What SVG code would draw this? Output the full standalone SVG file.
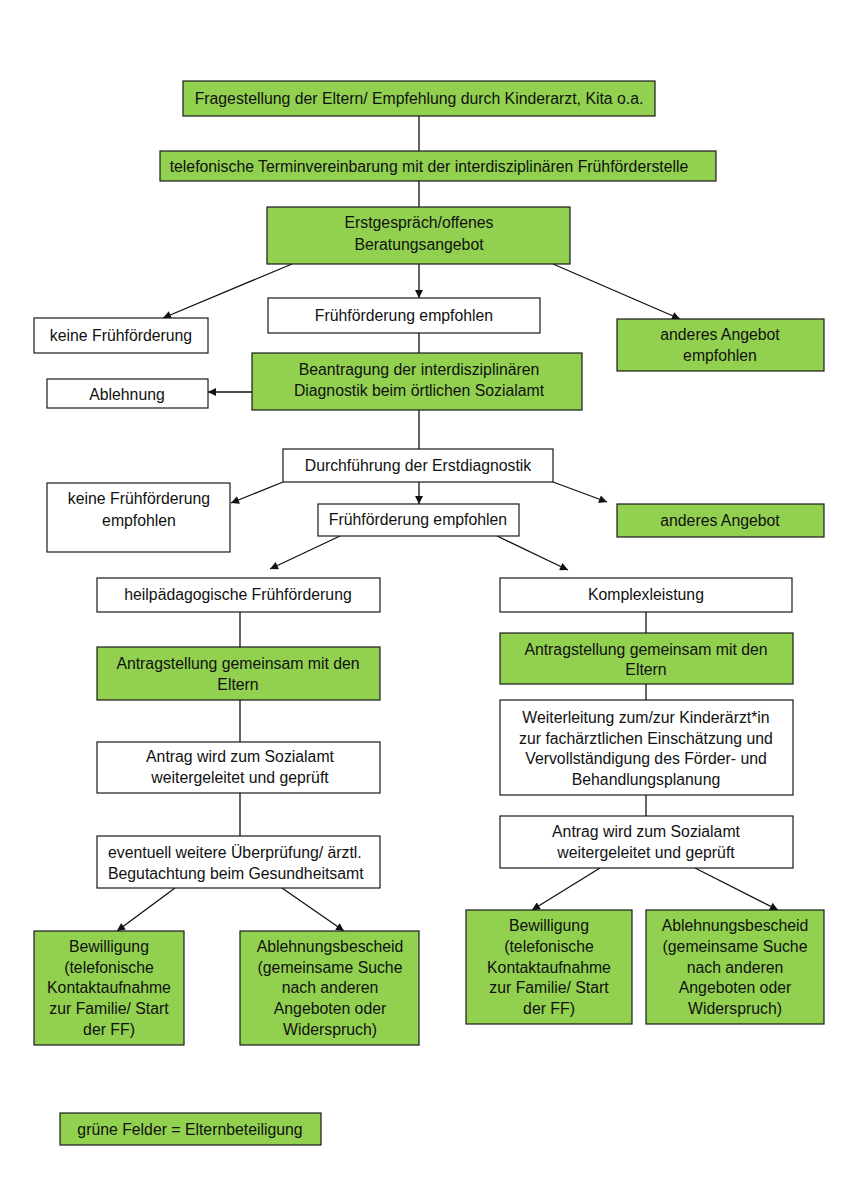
<svg xmlns="http://www.w3.org/2000/svg" width="848" height="1200" viewBox="0 0 848 1200">
<style>
.g{fill:#92d050;stroke:#1a1a1a;stroke-width:1.2}
.w{fill:#fff;stroke:#1a1a1a;stroke-width:1.2}
text{font-family:"Liberation Sans",Arial,sans-serif;font-size:15.8px;fill:#111;text-anchor:middle}
.l{text-anchor:start}
.c line{stroke:#111;stroke-width:1.3}
.a{marker-end:url(#ah)}
</style>
<defs>
<marker id="ah" viewBox="0 0 10 10" refX="10" refY="5" markerWidth="9" markerHeight="8" markerUnits="userSpaceOnUse" orient="auto">
<path d="M0,0 L10,5 L0,10 z" fill="#111"/>
</marker>
</defs>
<rect width="848" height="1200" fill="#fff"/>
<g class="c">
<line x1="419" y1="116" x2="419" y2="151"/>
<line x1="419" y1="181" x2="419" y2="207"/>
<line class="a" x1="292" y1="264" x2="163" y2="318"/>
<line class="a" x1="419" y1="264" x2="419" y2="298"/>
<line class="a" x1="553" y1="264" x2="680" y2="319"/>
<line x1="419" y1="333" x2="419" y2="353"/>
<line class="a" x1="252" y1="392" x2="208" y2="392"/>
<line x1="419" y1="410" x2="419" y2="449"/>
<line class="a" x1="283" y1="482" x2="231" y2="503"/>
<line class="a" x1="419" y1="482" x2="419" y2="504"/>
<line class="a" x1="553" y1="482" x2="607" y2="502"/>
<line class="a" x1="340" y1="536" x2="270" y2="569"/>
<line class="a" x1="497" y1="536" x2="568" y2="570"/>
<line x1="240" y1="612" x2="240" y2="647"/>
<line x1="240" y1="700" x2="240" y2="742"/>
<line x1="240" y1="793" x2="240" y2="836"/>
<line class="a" x1="175" y1="888" x2="117" y2="931"/>
<line class="a" x1="282" y1="888" x2="344" y2="931"/>
<line x1="646" y1="612" x2="646" y2="633"/>
<line x1="646" y1="684" x2="646" y2="700"/>
<line x1="646" y1="795" x2="646" y2="816"/>
<line class="a" x1="600" y1="868" x2="532" y2="910"/>
<line class="a" x1="695" y1="868" x2="778" y2="910"/>
</g>
<g id="n1"><rect class="g" x="183" y="81" width="472" height="35"/><text x="419" y="104">Fragestellung der Eltern/ Empfehlung durch Kinderarzt, Kita o.a.</text></g>
<g id="n2"><rect class="g" x="160" y="151" width="556" height="30"/><text x="429" y="172">telefonische Terminvereinbarung mit der interdisziplinären Frühförderstelle</text></g>
<g id="n3"><rect class="g" x="267" y="207" width="303" height="57"/><text x="419" y="228">Erstgespräch/offenes</text><text x="419" y="250">Beratungsangebot</text></g>
<g id="n4"><rect class="w" x="34" y="318" width="174" height="35"/><text x="121" y="341">keine Frühförderung</text></g>
<g id="n5"><rect class="w" x="268" y="298" width="272" height="35"/><text x="404" y="321">Frühförderung empfohlen</text></g>
<g id="n6"><rect class="g" x="617" y="319" width="207" height="52"/><text x="720" y="340">anderes Angebot</text><text x="720" y="361">empfohlen</text></g>
<g id="n7"><rect class="g" x="252" y="353" width="330" height="57"/><text x="419" y="375">Beantragung der interdisziplinären</text><text x="419" y="396">Diagnostik beim örtlichen Sozialamt</text></g>
<g id="n8"><rect class="w" x="47" y="379" width="161" height="29"/><text x="127" y="400">Ablehnung</text></g>
<g id="n9"><rect class="w" x="283" y="449" width="270" height="33"/><text x="418" y="471">Durchführung der Erstdiagnostik</text></g>
<g id="n10"><rect class="w" x="47" y="483" width="183" height="69"/><text x="139" y="504">keine Frühförderung</text><text x="139" y="526">empfohlen</text></g>
<g id="n11"><rect class="w" x="318" y="504" width="201" height="32"/><text x="418" y="525">Frühförderung empfohlen</text></g>
<g id="n12"><rect class="g" x="617" y="504" width="207" height="33"/><text x="720" y="526">anderes Angebot</text></g>
<g id="n13"><rect class="w" x="97" y="578" width="283" height="34"/><text x="238" y="600">heilpädagogische Frühförderung</text></g>
<g id="n14"><rect class="w" x="500" y="578" width="292" height="34"/><text x="646" y="600">Komplexleistung</text></g>
<g id="n15"><rect class="g" x="97" y="647" width="283" height="53"/><text x="238" y="669">Antragstellung gemeinsam mit den</text><text x="238" y="690">Eltern</text></g>
<g id="n16"><rect class="w" x="97" y="742" width="283" height="51"/><text x="240" y="762">Antrag wird zum Sozialamt</text><text x="240" y="783">weitergeleitet und geprüft</text></g>
<g id="n17"><rect class="w" x="97" y="836" width="283" height="52"/><text class="l" x="108" y="858">eventuell weitere Überprüfung/ ärztl.</text><text class="l" x="108" y="879">Begutachtung beim Gesundheitsamt</text></g>
<g id="n18"><rect class="g" x="34" y="931" width="150" height="114"/><text x="109" y="952">Bewilligung</text><text x="109" y="973">(telefonische</text><text x="109" y="993">Kontaktaufnahme</text><text x="109" y="1014">zur Familie/ Start</text><text x="109" y="1035">der FF)</text></g>
<g id="n19"><rect class="g" x="240" y="931" width="179" height="114"/><text x="330" y="952">Ablehnungsbescheid</text><text x="330" y="973">(gemeinsame Suche</text><text x="330" y="993">nach anderen</text><text x="330" y="1014">Angeboten oder</text><text x="330" y="1035">Widerspruch)</text></g>
<g id="n20"><rect class="g" x="500" y="633" width="293" height="51"/><text x="646" y="655">Antragstellung gemeinsam mit den</text><text x="646" y="675">Eltern</text></g>
<g id="n21"><rect class="w" x="500" y="700" width="293" height="95"/><text x="646" y="723">Weiterleitung zum/zur Kinderärzt*in</text><text x="646" y="744">zur fachärztlichen Einschätzung und</text><text x="646" y="764">Vervollständigung des Förder- und</text><text x="646" y="785">Behandlungsplanung</text></g>
<g id="n22"><rect class="w" x="500" y="816" width="293" height="52"/><text x="646" y="837">Antrag wird zum Sozialamt</text><text x="646" y="858">weitergeleitet und geprüft</text></g>
<g id="n23"><rect class="g" x="466" y="910" width="166" height="114"/><text x="549" y="931">Bewilligung</text><text x="549" y="952">(telefonische</text><text x="549" y="973">Kontaktaufnahme</text><text x="549" y="993">zur Familie/ Start</text><text x="549" y="1014">der FF)</text></g>
<g id="n24"><rect class="g" x="646" y="910" width="178" height="114"/><text x="735" y="931">Ablehnungsbescheid</text><text x="735" y="952">(gemeinsame Suche</text><text x="735" y="973">nach anderen</text><text x="735" y="993">Angeboten oder</text><text x="735" y="1014">Widerspruch)</text></g>
<g id="legend"><rect class="g" x="60" y="1113" width="261" height="32"/><text x="190" y="1135">grüne Felder = Elternbeteiligung</text></g>
</svg>
